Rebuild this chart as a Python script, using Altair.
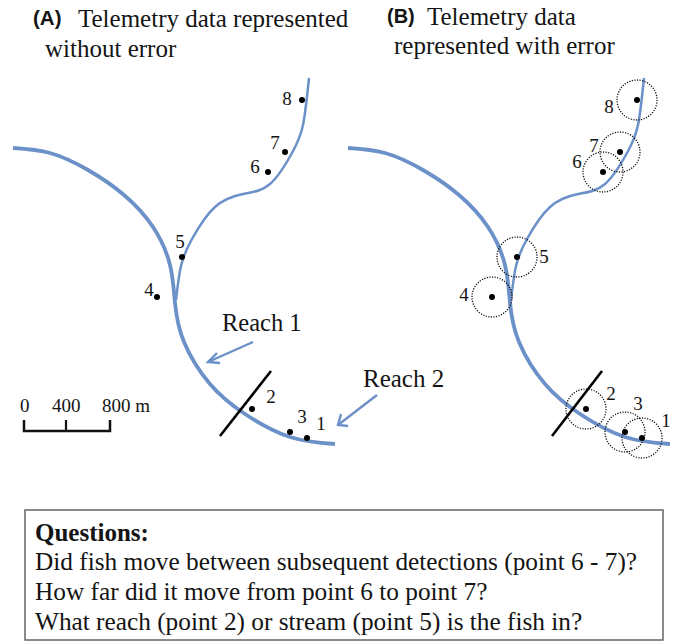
import altair as alt
import pandas as pd

BLUE = "#6c91c9"
SERIF = "Liberation Serif"
SANS = "Liberation Sans"
INK = "#141414"

main_x = [13, 50, 88, 124, 153, 170, 175, 184, 210, 245, 290, 335]
main_y = [148, 153, 170, 195, 227, 265, 303, 342, 384, 414, 437, 444]
trib_x = [176, 181, 192, 215, 243, 270, 292, 303, 309]
trib_y = [300, 266, 239, 207, 194, 184, 153, 125, 78]

dots_a_x = [307, 252, 290, 157, 182, 268, 285, 302]
dots_a_y = [438, 409, 432, 297, 257, 172, 152, 100]
dots_b_x = [642, 586, 625, 492, 517, 603, 620, 637]
dots_b_y = [438, 409, 432, 297, 257, 172, 152, 100]

num_text = ["1", "2", "3", "4", "5", "6", "7", "8"]
num_a_x = [321, 271, 302, 149, 180, 255, 275, 287]
num_a_y = [424, 397, 417, 290, 242, 167, 143, 99]
num_b_x = [666, 611, 638, 464, 544, 577, 594, 609]
num_b_y = [421, 394, 404, 295, 257, 162, 146, 107]

panel_offset = 335
divider_a_x = [220, 271]
divider_b_x = [552, 602]
divider_y = [436, 371]

arrow_paths = {
    "r1": ([253, 208], [342, 362]),
    "r1h": ([217, 208, 220], [353, 362, 363]),
    "r2": ([377, 338], [395, 425]),
    "r2h": ([341, 338, 348], [414, 425, 426]),
}

scale_bar_x = [24, 24, 110, 110]
scale_bar_y = [420, 431, 431, 420]
scale_mid_x = [66, 66]
scale_mid_y = [420, 431]

texts = [
    ("Telemetry data represented", 78, 19, 25, "normal", SERIF),
    ("without error", 45, 49, 25, "normal", SERIF),
    ("Telemetry data", 427, 17, 25, "normal", SERIF),
    ("represented with error", 394, 46, 25, "normal", SERIF),
    ("(A)", 33, 19, 20.5, "bold", SANS),
    ("(B)", 387, 17, 20, "bold", SANS),
    ("Reach 1", 222, 324, 24.5, "normal", SERIF),
    ("Reach 2", 363, 379, 25, "normal", SERIF),
    ("0", 20, 406, 19, "normal", SERIF),
    ("400", 52, 406, 19, "normal", SERIF),
    ("800 m", 102, 406, 19, "normal", SERIF),
    ("Questions:", 35, 533, 25, "bold", SERIF),
    ("Did fish move between subsequent detections (point 6 - 7)?", 35, 562, 25.3, "normal", SERIF),
    ("How far did it move from point 6 to point 7?", 35, 592, 25.3, "normal", SERIF),
    ("What reach (point 2) or stream (point 5) is the fish in?", 35, 622, 25.3, "normal", SERIF),
]

X = alt.X("x:Q", scale=alt.Scale(domain=[8, 670], nice=False, zero=False), axis=None)
Y = alt.Y("y:Q", scale=alt.Scale(domain=[642, 8], nice=False, zero=False), axis=None)


def path(xs, ys, color, width, interpolate="linear", cap="butt"):
    df = pd.DataFrame({"x": xs, "y": ys, "o": range(len(xs))})
    return alt.Chart(df).mark_line(
        color=color, strokeWidth=width, interpolate=interpolate, strokeCap=cap, clip=False
    ).encode(x=X, y=Y, order="o:Q")


layers = []
box = pd.DataFrame({"x": [25], "x2": [663], "y": [510], "y2": [640]})
layers.append(alt.Chart(box).mark_rect(fillOpacity=0, stroke="#666666", strokeWidth=1.5).encode(x=X, x2="x2:Q", y=Y, y2="y2:Q"))

for off in (0, panel_offset):
    layers.append(path([v + off for v in main_x], main_y, BLUE, 3.8, interpolate="natural"))
    layers.append(path([v + off for v in trib_x], trib_y, BLUE, 2.5, interpolate="natural"))

layers.append(path(divider_a_x, divider_y, "#000000", 2.6))
layers.append(path(divider_b_x, divider_y, "#000000", 2.6))

for xs, ys in arrow_paths.values():
    layers.append(path(xs, ys, BLUE, 2.4))

layers.append(path(scale_bar_x, scale_bar_y, "#111111", 2.5))
layers.append(path(scale_mid_x, scale_mid_y, "#111111", 2.2))

layers.append(alt.Chart(pd.DataFrame({"x": dots_b_x, "y": dots_b_y})).mark_point(
    shape="circle", size=1600, filled=False, stroke="#111111", strokeWidth=1.3, strokeDash=[1.2, 1.4], opacity=1
).encode(x=X, y=Y))

layers.append(alt.Chart(pd.DataFrame({"x": dots_a_x + dots_b_x, "y": dots_a_y + dots_b_y})).mark_point(
    shape="circle", size=36, filled=True, color="#000000", opacity=1
).encode(x=X, y=Y))

nums = pd.DataFrame({"x": num_a_x + num_b_x, "y": num_a_y + num_b_y, "t": num_text + num_text})
layers.append(alt.Chart(nums).mark_text(font=SERIF, fontSize=19, color=INK, align="center", baseline="middle").encode(x=X, y=Y, text="t:N"))

for t, x, y, size, weight, font in texts:
    df = pd.DataFrame({"x": [x], "y": [y], "t": [t]})
    layers.append(alt.Chart(df).mark_text(font=font, fontSize=size, fontWeight=weight, color=INK, align="left", baseline="middle").encode(x=X, y=Y, text="t:N"))

chart = alt.layer(*layers).properties(
    width=662, height=634, padding=0, autosize=alt.AutoSizeParams(type="none")
).configure_view(stroke=None)

chart.save("out.html", embed_options={"renderer": "svg", "actions": False})
